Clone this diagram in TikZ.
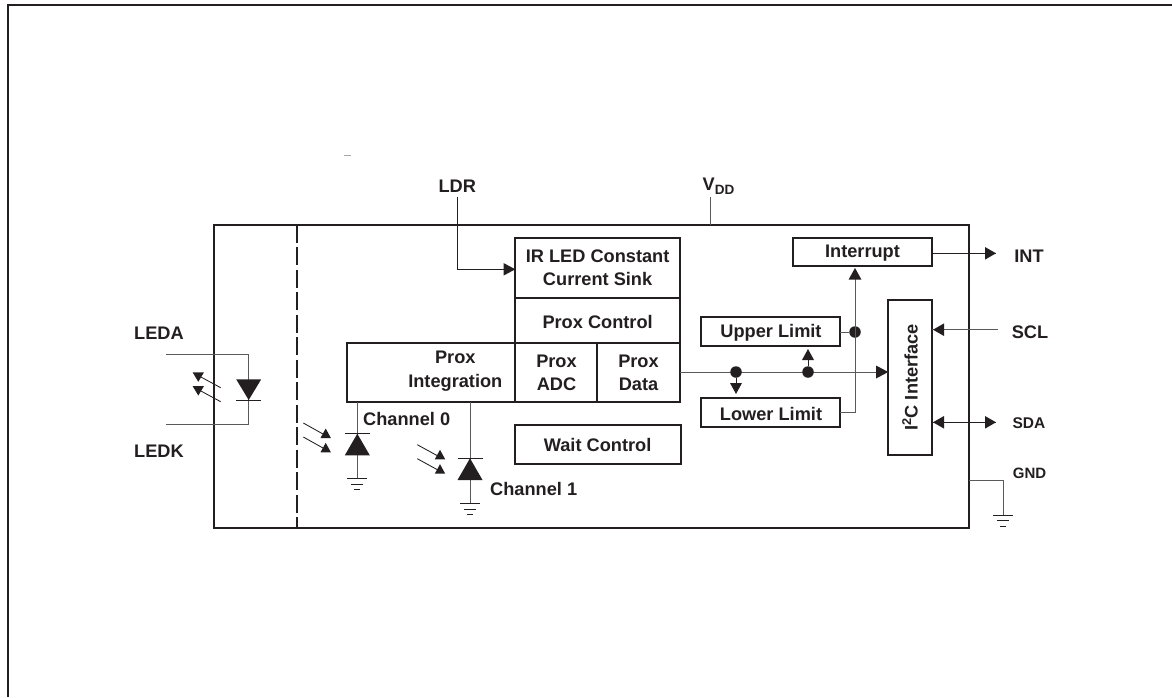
\documentclass[tikz,border=0pt]{standalone}
\usepackage{fontspec}
\setmainfont{Liberation Sans}
\definecolor{ink}{HTML}{231F20}
\definecolor{wire}{HTML}{5A5A5A}
\tikzset{
  x=1pt,y=-1pt,
  box/.style={draw=ink,line width=1.9pt,fill=none,rectangle,outer sep=0pt,inner sep=0pt,anchor=north west},
  lab/.style={font=\fontsize{18.2}{22}\selectfont\bfseries,text=ink,align=center,inner sep=0pt},
  thin wire/.style={draw=wire,line width=1pt},
  fine/.style={draw=ink,line width=.85pt},
  jn/.style={circle,fill=ink,draw=none,minimum size=11.5pt,inner sep=0pt,outer sep=0pt},
}
\newcommand{\gndsym}[2]{%
  \draw[fine] (#1-10,#2)--(#1+10,#2);
  \draw[fine] (#1-6,#2+5.7)--(#1+6,#2+5.7);
  \draw[fine] (#1-3,#2+11.3)--(#1+3,#2+11.3);}
\newcommand{\tridown}[2]{\fill[ink] (#1-5.7,#2)--(#1+5.7,#2)--(#1,#2+9.5)--cycle;}
\newcommand{\triup}[2]{\fill[ink] (#1-5.2,#2)--(#1+5.2,#2)--(#1,#2-9.5)--cycle;}
\begin{document}
\begin{tikzpicture}
\useasboundingbox (0,0) rectangle (1172,697);
% outer frame
\coordinate (f1) at (8.2,697); \coordinate (f2) at (8.2,5); \coordinate (f3) at (1172,5);
\draw[ink,line width=1.9pt] (f1)--(f2)--(f3);
\draw[gray!70,line width=.5pt] (344,155)--(351,155);
% main
\node[box,minimum width=755pt,minimum height=303.5pt] (chip) at (213.7,224.7) {};
\coordinate (dt) at (297.3,224.7); \coordinate (db) at (297.3,528);
\draw[ink,line width=1.9pt,dash pattern=on 18pt off 4.5pt] (dt)--(db);
% blocks
\node[box,minimum width=164.7pt,minimum height=60.3pt] (sink) at (515.3,237.7) {};
\node[lab] at (597.6,267.5) {IR LED Constant\\[1.5pt]Current Sink};
\node[box,minimum width=164.7pt,minimum height=45.3pt] (ctrl) at (515.3,298) {};
\node[lab] at (597.6,321.5) {Prox Control};
\node[box,minimum width=81.7pt,minimum height=59pt] (adc) at (515.3,343.3) {};
\node[lab] at (556.5,373) {Prox\\[1.5pt]ADC};
\node[box,minimum width=83pt,minimum height=59pt] (data) at (597,343.3) {};
\node[lab] at (638.5,373) {Prox\\[1.5pt]Data};
\node[box,minimum width=168.6pt,minimum height=58.7pt] (integ) at (346.7,343.3) {};
\node[lab] at (455.3,371) {Prox\\[1.5pt]Integration};
\node[box,minimum width=165.5pt,minimum height=39.3pt] (wait) at (515.3,425) {};
\node[lab] at (597.6,445) {Wait Control};
\node[box,minimum width=139.3pt,minimum height=28.3pt] (intr) at (792.7,237.7) {};
\node[lab] at (862.5,253) {Interrupt};
\node[box,minimum width=139.3pt,minimum height=29pt] (up) at (701,317.3) {};
\node[lab] at (771,333) {Upper Limit};
\node[box,minimum width=139.3pt,minimum height=28.7pt] (lo) at (701,398.3) {};
\node[lab] at (771,414) {Lower Limit};
\node[box,minimum width=43.4pt,minimum height=155.3pt] (i2c) at (888.3,300) {};
\node[lab,rotate=90] at (910,377.5) {I\textsuperscript{2}C Interface};
% labels
\node[lab] (ldr) at (457.3,186) {LDR};
\node[lab,anchor=west] (vdd) at (702.5,186) {V\raisebox{-3.5pt}{\fontsize{13.5}{15}\selectfont DD}};
\node[lab] (leda) at (159,333) {LEDA};
\node[lab] (ledk) at (159,451) {LEDK};
\node[lab] (int) at (1029,256) {INT};
\node[lab] (scl) at (1030,332) {SCL};
\node[lab,font=\fontsize{15.5}{18}\selectfont\bfseries] (sda) at (1029,423) {SDA};
\node[lab,font=\fontsize{15}{18}\selectfont\bfseries] (gnd) at (1029.5,473) {GND};
\node[lab,anchor=west] (ch0) at (363,419) {Channel 0};
\node[lab,anchor=west] (ch1) at (490,489) {Channel 1};
% LDR, VDD
\coordinate (ldrs) at (457.3,197); \coordinate (ldrb) at (457.3,269.3); \coordinate (ldre) at (515.3,269.3);
\draw[fine] (ldrs)--(ldrb)--(ldre);
\fill[ink] (515.3,269.3)--(503.5,263)--(503.5,275.6)--cycle;
\coordinate (vdds) at (710,197); \coordinate (vdde) at (710,224.7);
\draw[thin wire] (vdds)--(vdde);
% signal bus
\coordinate (busa) at (680,372); \coordinate (busb) at (888.3,372);
\draw[thin wire] (busa)--(busb);
\fill[ink] (888.3,372)--(876,365.5)--(876,378.5)--cycle;
\node[jn] (j1) at (736,372) {};
\node[jn] (j2) at (808,372) {};
\coordinate (j1e) at (736,385); \coordinate (j2e) at (808,358);
\draw[ink,line width=1pt] (j1)--(j1e);
\draw[ink,line width=1pt] (j2)--(j2e);
\fill[ink] (736,394)--(730,383)--(742,383)--cycle;
\fill[ink] (808,349)--(802,360)--(814,360)--cycle;
% limits to interrupt
\coordinate (u1) at (840.3,332); \coordinate (l1) at (840.3,412.7); \coordinate (l2) at (855,412.7); \coordinate (i1) at (855,270);
\node[jn] (j3) at (855,332) {};
\draw[thin wire] (u1)--(j3);
\draw[thin wire] (l1)--(l2)--(i1);
\fill[ink] (855,268)--(848.6,279.5)--(861.4,279.5)--cycle;
% INT SCL SDA
\coordinate (ia) at (932,253.3); \coordinate (ib) at (996,253.3);
\draw[fine] (ia)--(ib);
\fill[ink] (996,253.3)--(985,247)--(985,259.6)--cycle;
\coordinate (sa) at (998,329.7); \coordinate (sb) at (932,329.7);
\draw[thin wire] (sa)--(sb);
\fill[ink] (933,329.7)--(944,323.4)--(944,336)--cycle;
\coordinate (da) at (933,422.3); \coordinate (db2) at (996,422.3);
\draw[fine] (da)--(db2);
\fill[ink] (933,422.3)--(944,416)--(944,428.6)--cycle;
\fill[ink] (996,422.3)--(985,416)--(985,428.6)--cycle;
% GND
\coordinate (ga) at (968.7,480.7); \coordinate (gb) at (1003,480.7); \coordinate (gc) at (1003,515);
\draw[thin wire] (ga)--(gb)--(gc);
\gndsym{1003}{515}
% LED
\coordinate (la) at (166,354); \coordinate (lb) at (248.7,354); \coordinate (lc) at (248.7,424.7); \coordinate (ld) at (166,424.7);
\draw[thin wire] (la)--(lb)--(lc)--(ld);
\fill[ink] (236.2,379.3)--(261.2,379.3)--(248.7,400)--cycle;
\draw[fine] (236.2,400)--(261.2,400);
\draw[fine] (220.7,387.7)--(200,376.5);
\draw[fine] (220.7,401.7)--(200,390.5);
\tridown{198.3}{372.3}
\tridown{198.3}{386}
% Channel 0
\coordinate (c0a) at (357.3,401.7); \coordinate (c0b) at (357.3,478.3);
\draw[thin wire] (c0a)--(c0b);
\fill[ink] (344.8,455.3)--(369.8,455.3)--(357.3,433.7)--cycle;
\draw[fine] (344.8,433.7)--(369.8,433.7);
\gndsym{357.3}{478.3}
\draw[fine] (303.3,423)--(323,434);
\draw[fine] (303.3,437)--(323,448);
\triup{325.7}{438}
\triup{325.7}{452.3}
% Channel 1
\coordinate (c1a) at (470,401.7); \coordinate (c1b) at (470,503.3);
\draw[thin wire] (c1a)--(c1b);
\fill[ink] (457.5,480)--(482.5,480)--(470,458.3)--cycle;
\draw[fine] (457.5,458.3)--(482.5,458.3);
\gndsym{470}{503.3}
\draw[fine] (417.3,444.7)--(437,455.5);
\draw[fine] (417.3,458.7)--(437,469.5);
\triup{440}{459.3}
\triup{440}{473.7}
\end{tikzpicture}
\end{document}
